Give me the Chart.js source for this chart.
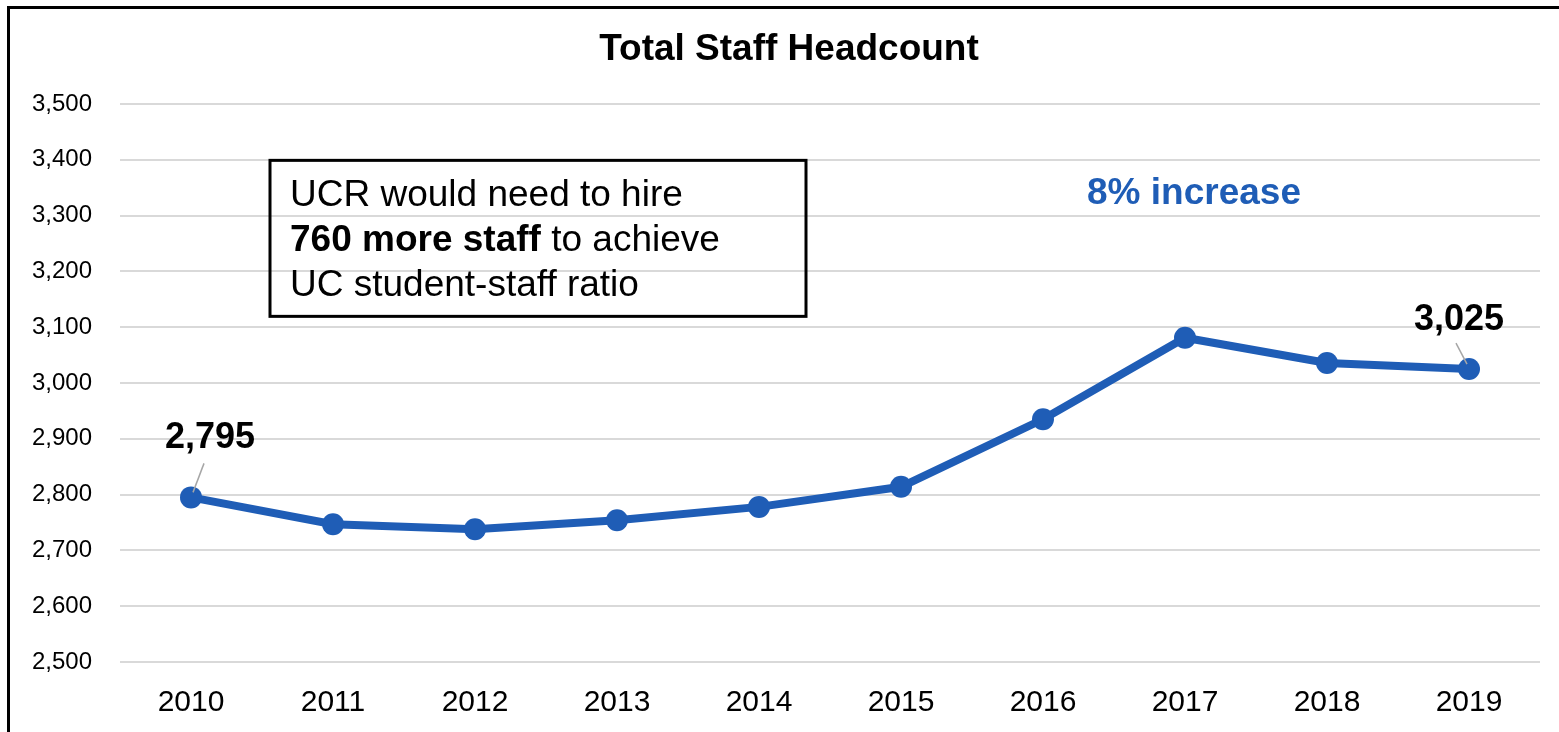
<!DOCTYPE html>
<html>
<head>
<meta charset="utf-8">
<script src="https://cdn.jsdelivr.net/npm/chart.js@4"></script>
<style>
  html, body { margin: 0; padding: 0; background: #fff; overflow: hidden; }
  #wrap { position: absolute; left: 0; top: 0; width: 1559px; height: 732px; }
</style>
</head>
<body>
<div id="wrap"><canvas id="staffChart" width="1559" height="732"></canvas></div>
<script>
const years = ['2010', '2011', '2012', '2013', '2014', '2015', '2016', '2017', '2018', '2019'];
const headcount = [2795, 2747, 2738, 2754, 2778, 2814, 2935, 3081, 3036, 3025];
const labelledPoints = [0, 9]; // indexes that get a value label
const titleText = 'Total Staff Headcount';
const noteLines = [
  [{ t: 'UCR would need to hire', b: false }],
  [{ t: '760 more staff', b: true }, { t: ' to achieve', b: false }],
  [{ t: 'UC student-staff ratio', b: false }]
];
const increaseText = '8% increase';

const blue = '#1f5db6';
const font = '"Liberation Sans", Arial, sans-serif';

// frame, title, note box, callouts
const extras = {
  id: 'extras',
  afterDraw(chart) {
    const ctx = chart.ctx;
    const area = chart.chartArea;
    const xs = chart.scales.x, ys = chart.scales.y;
    ctx.save();

    // outer frame (right/bottom edges fall outside the picture)
    ctx.fillStyle = '#000';
    ctx.fillRect(7, 6, 1600, 3);
    ctx.fillRect(7, 6, 3, 800);

    // title
    ctx.font = 'bold 37px ' + font;
    ctx.textAlign = 'center';
    ctx.textBaseline = 'middle';
    ctx.fillText(titleText, 789, 50);

    // note box
    const bx = area.left + 150, by = ys.getPixelForValue(3399);
    const bw = 536, bh = 156;
    ctx.lineWidth = 3;
    ctx.strokeStyle = '#000';
    ctx.strokeRect(bx, by, bw, bh);
    ctx.textAlign = 'left';
    ctx.textBaseline = 'alphabetic';
    noteLines.forEach((parts, i) => {
      let x = bx + 20;
      const y = by + 46 + i * 45;
      parts.forEach(p => {
        ctx.font = (p.b ? 'bold ' : '') + '37px ' + font;
        ctx.fillText(p.t, x, y);
        x += ctx.measureText(p.t).width;
      });
    });

    // 8% increase
    ctx.fillStyle = blue;
    ctx.font = 'bold 37px ' + font;
    ctx.textAlign = 'center';
    ctx.textBaseline = 'middle';
    ctx.fillText(increaseText, (xs.getPixelForValue(6) + xs.getPixelForValue(8)) / 2 + 9, ys.getPixelForValue(3339));

    // value labels with leader lines
    labelledPoints.forEach(i => {
      const px = xs.getPixelForValue(i), py = ys.getPixelForValue(headcount[i]);
      const first = i === 0;
      const dir = first ? 1 : -1;
      ctx.strokeStyle = '#a6a6a6';
      ctx.lineWidth = 1.5;
      ctx.beginPath();
      ctx.moveTo(px + 2 * dir, py - 5);
      ctx.lineTo(px + 13 * dir, py - (first ? 34 : 26));
      ctx.stroke();
      ctx.fillStyle = '#000';
      ctx.font = 'bold 36px ' + font;
      ctx.fillText(headcount[i].toLocaleString('en-US'), first ? px + 19 : px - 10, py - (first ? 59 : 49));
    });

    ctx.restore();
  }
};

const chart = new Chart(document.getElementById('staffChart'), {
  type: 'line',
  data: {
    labels: years,
    datasets: [{
      label: 'Total Staff Headcount',
      data: headcount,
      borderColor: blue,
      backgroundColor: blue,
      borderWidth: 8,
      pointRadius: 11,
      pointBackgroundColor: blue,
      pointBorderWidth: 0,
      tension: 0
    }]
  },
  options: {
    responsive: false,
    animation: false,
    devicePixelRatio: 1,
    layout: { padding: { left: 0, top: 104, right: 19, bottom: 0 } },
    plugins: {
      legend: { display: false },
      title: { display: false },
      tooltip: { enabled: false }
    },
    scales: {
      x: {
        offset: true,
        grid: { display: false },
        border: { display: false },
        ticks: { color: '#000', font: { family: font, size: 30 }, padding: 15 },
        afterFit(scale) { scale.height = 70; }
      },
      y: {
        min: 2500,
        max: 3500,
        grid: { color: '#d9d9d9', lineWidth: 2, drawTicks: false },
        border: { display: false },
        ticks: {
          stepSize: 100,
          color: '#000',
          padding: 28,
          font: { family: font, size: 24 },
          callback: v => v.toLocaleString('en-US')
        },
        afterFit(scale) { scale.width = 120; }
      }
    }
  },
  plugins: [extras]
});
</script>
</body>
</html>
